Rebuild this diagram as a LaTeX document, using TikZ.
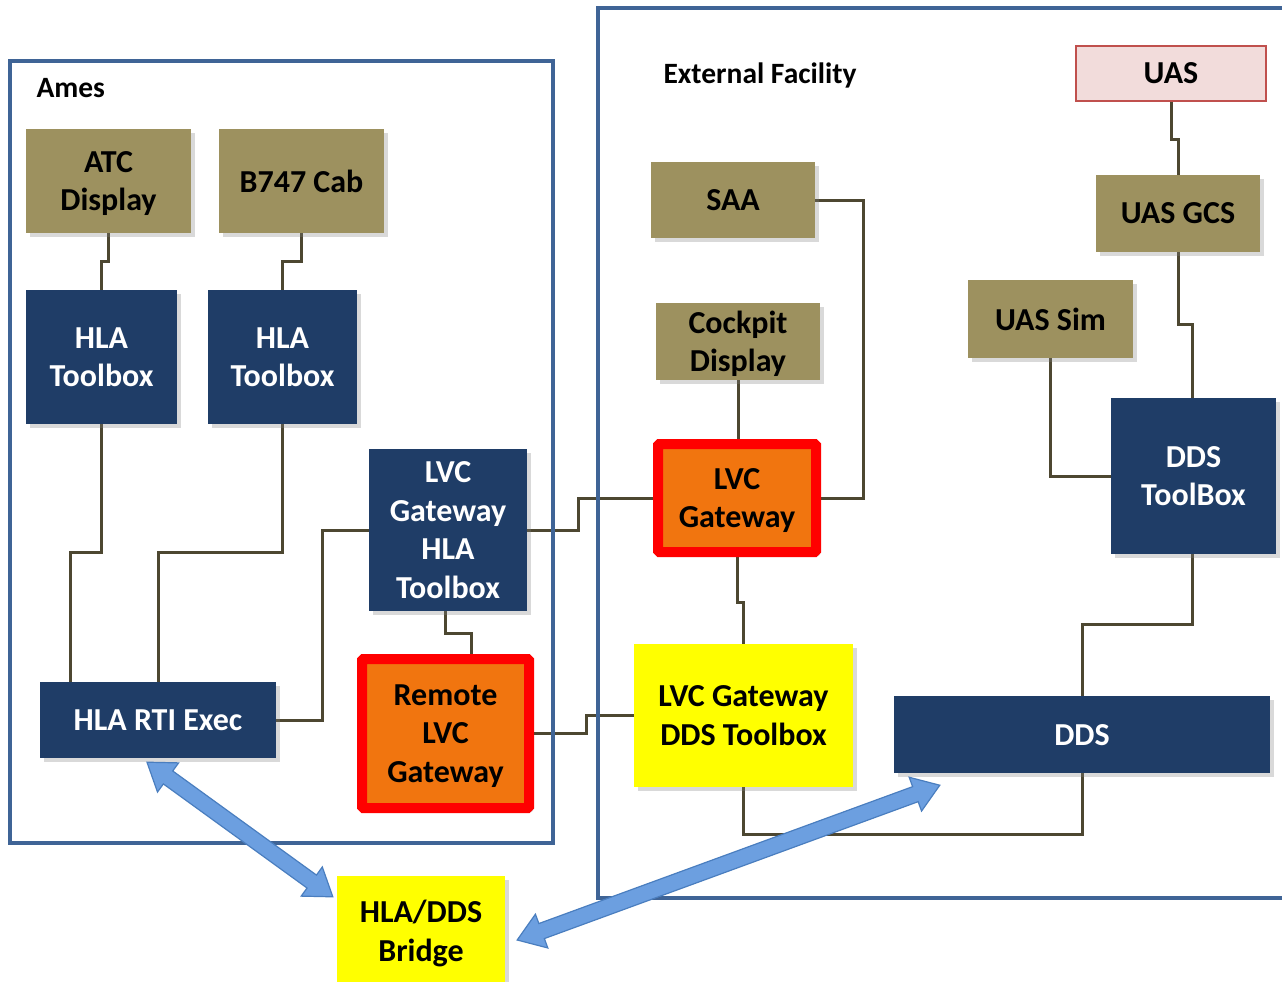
\documentclass[tikz,border=0pt]{standalone}
\usepackage{fontspec}
\setmainfont{Carlito}
\usetikzlibrary{shadows,backgrounds,calc}

\definecolor{boxolive}{HTML}{9D915F}
\definecolor{navybox}{HTML}{1F3D67}
\definecolor{gworange}{HTML}{F1750F}
\definecolor{gwred}{HTML}{FF0000}
\definecolor{brightyellow}{HTML}{FFFF00}
\definecolor{uaspink}{HTML}{F2DCDB}
\definecolor{uasred}{HTML}{C0504D}
\definecolor{linebrown}{HTML}{4D4731}
\definecolor{frameblue}{HTML}{3F6496}
\definecolor{arrowfill}{HTML}{6C9FE0}
\definecolor{arrowline}{HTML}{4A7EBF}

\tikzset{
  conn/.style={draw=linebrown, line width=3pt},
  frame/.style={draw=frameblue, line width=4pt},
  boxbase/.style={rectangle, inner sep=0pt, align=center, text depth=0pt,
    font=\bfseries\fontsize{32}{38.5}\selectfont,
    drop shadow={shadow xshift=4pt, shadow yshift=-4pt, opacity=0.3}},
  sysbox/.style={boxbase, fill=boxolive, text=black},
  toolbox/.style={boxbase, fill=navybox, text=white},
  gateway/.style={boxbase, fill=gworange, draw=gwred, line width=10pt,
    rounded corners=1.5pt, text=black},
  bridgebox/.style={boxbase, fill=brightyellow, text=black},
  uasbox/.style={rectangle, inner sep=0pt, fill=uaspink, draw=uasred,
    line width=2pt, font=\bfseries\fontsize{32}{38.5}\selectfont},
  arealabel/.style={anchor=base west, font=\bfseries\fontsize{29.5}{34}\selectfont},
  barrow/.style={draw=arrowline, line width=1.2pt, fill=arrowfill}
}

% wide double-headed block arrow between two points
\newcommand\blockarrow[2]{%
  \path[barrow] let \p1=(#1), \p2=(#2),
      \n1={atan2(\y2-\y1,\x2-\x1)}, \n2={veclen(\x2-\x1,\y2-\y1)} in
    [shift={(\p1)}, rotate=\n1]
    (0pt,0pt) -- (26pt,18pt) -- (26pt,8pt) -- (\n2-26pt,8pt)
    -- (\n2-26pt,18pt) -- (\n2+0pt,0pt) -- (\n2-26pt,-18pt)
    -- (\n2-26pt,-8pt) -- (26pt,-8pt) -- (26pt,-18pt) -- cycle;}

\begin{document}
\begin{tikzpicture}[x=1pt, y=-1pt]
\useasboundingbox (0,0) rectangle (1282,982);

% area labels
\node[arealabel] (ameslbl) at (33,97) {Ames};
\node[arealabel] (extlbl) at (660,84) {External Facility};

% Ames side
\node[sysbox, minimum width=165pt, minimum height=104pt] (atc) at (108.5,181) {ATC\\Display};
\node[sysbox, minimum width=165pt, minimum height=104pt] (b747) at (301.5,181) {B747 Cab};
\node[toolbox, minimum width=151pt, minimum height=134pt] (hla1) at (101.5,357) {HLA\\Toolbox};
\node[toolbox, minimum width=149pt, minimum height=134pt] (hla2) at (282.5,357) {HLA\\Toolbox};
\node[toolbox, minimum width=158pt, minimum height=162pt] (lvchla) at (448,530) {LVC\\Gateway\\HLA\\Toolbox};
\node[toolbox, minimum width=236pt, minimum height=76pt] (rti) at (158,720) {HLA RTI Exec};
\node[gateway, minimum width=167pt, minimum height=149pt] (remote) at (445.5,733.5) {Remote\\LVC\\Gateway};

% external facility side
\node[sysbox, minimum width=164pt, minimum height=76pt] (saa) at (733,200) {SAA};
\node[sysbox, minimum width=164pt, minimum height=77pt] (cockpit) at (738,341.5) {Cockpit\\Display};
\node[gateway, minimum width=158pt, minimum height=108pt] (lvcgw) at (737,498) {LVC\\Gateway};
\node[bridgebox, minimum width=219pt, minimum height=143pt] (lvcdds) at (743.5,715.5) {LVC Gateway\\DDS Toolbox};
\node[uasbox, minimum width=190pt, minimum height=55pt] (uas) at (1171,73.5) {UAS};
\node[sysbox, minimum width=164pt, minimum height=77pt] (uasgcs) at (1178,213.5) {UAS GCS};
\node[sysbox, minimum width=165pt, minimum height=78pt] (uassim) at (1050.5,319) {UAS Sim};
\node[toolbox, minimum width=165pt, minimum height=156pt] (ddstb) at (1193.5,476) {DDS\\ToolBox};
\node[toolbox, minimum width=376pt, minimum height=77pt] (dds) at (1082,734.5) {DDS};

% bridge
\node[bridgebox, minimum width=168pt, minimum height=110pt] (bridge) at (421,931) {HLA/DDS\\Bridge};

\begin{scope}[on background layer]
  % links
  \draw[conn] (atc.south) -- ++(0,28) -| (hla1.north);
  \draw[conn] (b747.south) -- ++(0,28) -| (hla2.north);
  \draw[conn] (hla1.south) -- ++(0,128) -| ([xshift=31pt]rti.north west);
  \draw[conn] (hla2.south) -- ++(0,128) -| (rti.north);
  \draw[conn] (rti.east) -- ++(46,0) |- (lvchla.west);
  \draw[conn] (lvchla.east) -- ++(51,0) |- (lvcgw.west);
  \draw[conn] ([xshift=-3pt]lvchla.south) -- ++(0,22) -| ([xshift=26pt]remote.north);
  \draw[conn] (remote.east) -- ++(52,0) |- (lvcdds.west);
  \draw[conn] (cockpit.south) -- (cockpit.south |- lvcgw.north);
  \draw[conn] (saa.east) -- ++(48,0) |- (lvcgw.east);
  \draw[conn] (lvcgw.south) -- ++(0,45) -| (lvcdds.north);
  \draw[conn] (lvcdds.south) -- ++(0,47) -| (dds.south);
  \draw[conn] (dds.north) -- ++(0,-71) -| ([xshift=-1.5pt]ddstb.south);
  \draw[conn] (uassim.south) |- (ddstb.west);
  \draw[conn] (uasgcs.south) -- ++(0,72) -| ([xshift=-1.5pt]ddstb.north);
  \draw[conn] (uas.south) -- ++(0,37) -| (uasgcs.north);
  % site frames
  \draw[frame] (10,61) rectangle (553,843);
  \draw[frame] (598,8) rectangle (1295,898);
\end{scope}

% HLA/DDS bridge data flows
\coordinate (rtitip) at ([xshift=-11pt,yshift=-4pt]rti.south);
\coordinate (brtip1) at ([xshift=-4pt,yshift=-21pt]bridge.north west);
\coordinate (brtip2) at ([xshift=12pt,yshift=-9pt]bridge.east);
\coordinate (ddstip) at ([xshift=46pt,yshift=-12pt]dds.south west);
\blockarrow{rtitip}{brtip1}
\blockarrow{brtip2}{ddstip}
\end{tikzpicture}
\end{document}
